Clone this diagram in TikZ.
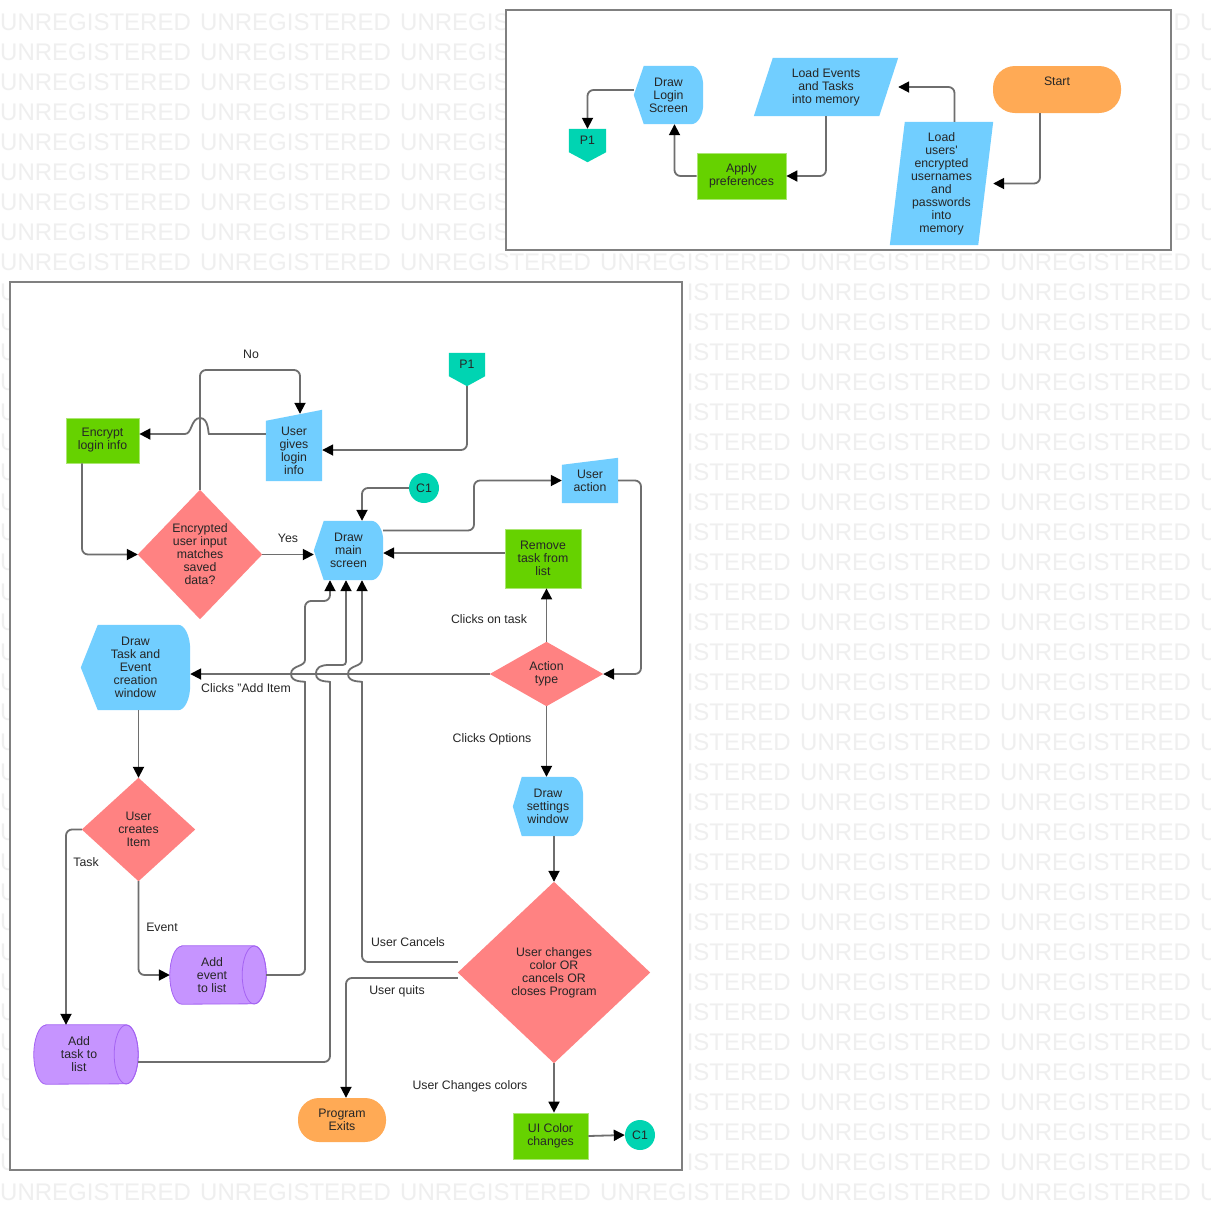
\documentclass[tikz,border=0pt]{standalone}
\usepackage{fontspec}
\setmainfont{Liberation Sans}
\usetikzlibrary{arrows.meta,calc}
\pgfdeclarelayer{wmlayer}
\pgfdeclarelayer{shapelayer}
\pgfsetlayers{wmlayer,shapelayer,main}
\definecolor{cblue}{HTML}{71CEFF}
\definecolor{cgreen}{HTML}{66D200}
\definecolor{cred}{HTML}{FF8282}
\definecolor{corange}{HTML}{FFAA55}
\definecolor{cteal}{HTML}{00D4B2}
\definecolor{cpurp}{HTML}{C694FF}
\definecolor{cpurpb}{HTML}{A463F2}
\definecolor{cline}{HTML}{6E6E6E}
\definecolor{ctext}{HTML}{262626}
\definecolor{cwm}{HTML}{EFEFEF}
\definecolor{cpanel}{HTML}{808080}
\tikzset{
  nd/.style 2 args={inner sep=0pt, minimum width=#1, minimum height=#2, align=center, text=ctext, font=\fontsize{12.3}{13}\selectfont},
  lbl/.style={inner sep=0pt, text=ctext, align=center, font=\fontsize{12.3}{13}\selectfont},
  grn/.style={fill=cgreen, draw=cgreen!55!white, line width=0.8pt},
  conn/.style={draw=cline, line width=1.8pt, rounded corners=6pt, -{Triangle[length=11pt,width=11pt,color=black]}},
  wm/.style={inner sep=0pt, anchor=base west, text=cwm, font=\fontsize{24}{24}\selectfont},
  panel/.style={fill=white, draw=cpanel, line width=2pt},
  conncirc/.style={circle, fill=cteal, minimum size=30pt, inner sep=0pt, text=ctext, font=\fontsize{12.3}{13}\selectfont}
}
% shape helpers (drawn from the anchors of invisible nodes)
\newcommand\shDiam[1]{\fill[cred] (#1.north)--(#1.east)--(#1.south)--(#1.west)--cycle;}
\newcommand\shDisp[3]{\fill[cblue] (#1.west) -- ([xshift=#2pt]#1.north west) -- ([xshift=-12pt]#1.north east) .. controls ([xshift=-5.4pt]#1.north east) and ([yshift=-#3*0.45pt]#1.north east) .. ([yshift=-#3pt]#1.north east) -- ([yshift=#3pt]#1.south east) .. controls ([yshift=#3*0.45pt]#1.south east) and ([xshift=-5.4pt]#1.south east) .. ([xshift=-12pt]#1.south east) -- ([xshift=#2pt]#1.south west) -- cycle;}
\newcommand\shMan[2]{\fill[cblue] ([yshift=-#2pt]#1.north west) -- (#1.north east) -- (#1.south east) -- (#1.south west) -- cycle;}
\newcommand\shPar[2]{\fill[cblue] ([xshift=#2pt]#1.north west) -- (#1.north east) -- ([xshift=-#2pt]#1.south east) -- (#1.south west) -- cycle;}
\newcommand\shOffPt[1]{\fill[cteal] (#1.north west) -- (#1.north east) -- (#1.south east) -- ([yshift=-10pt]#1.south) -- (#1.south west) -- cycle;}
\newcommand\shCyl[2]{\filldraw[fill=cpurp, draw=cpurpb, line width=0.8pt] ([xshift=12pt]#1.north west) -- ([xshift=-12pt]#1.north east) arc[start angle=90,end angle=-90,x radius=12pt,y radius=#2pt] -- ([xshift=12pt]#1.south west) arc[start angle=270,end angle=90,x radius=12pt,y radius=#2pt] -- cycle;
  \draw[draw=cpurpb, line width=0.8pt] ([xshift=-12pt]#1.east) ellipse [x radius=12pt, y radius=#2pt];}
\begin{document}
\begin{tikzpicture}[x=1pt,y=1pt]
\useasboundingbox (0,0) rectangle (1211,-1211);
\begin{pgfonlayer}{wmlayer}
\clip (0,0) rectangle (1211,-1211);
\fill[white] (0,0) rectangle (1211,-1211);
% watermark rows: only the parts that are not hidden by the two panels
\foreach \r in {0,...,7}{%
  \foreach \c in {0,1,6}{\node[wm] (wma\r-\c) at (\c*200,-30-\r*30) {UNREGISTERED};}
  \node[wm] (wmb\r) at (400,-30-\r*30) {UNREGIS};
  \node[wm] (wmc\r) at (1173.4,-30-\r*30) {D};}
\foreach \c in {0,...,6}{\node[wm] (wmd\c) at (\c*200,-270) {UNREGISTERED};
  \node[wm] (wme\c) at (\c*200,-1200) {UNREGISTERED};}
\foreach \r in {9,...,38}{%
  \node[wm] (wmf\r) at (0,-30-\r*30) {U};
  \node[wm] (wmg\r) at (686.6,-30-\r*30) {ISTERED};
  \foreach \c in {4,5,6}{\node[wm] (wmh\r-\c) at (\c*200,-30-\r*30) {UNREGISTERED};}}
\filldraw[panel] (506,-10) rectangle (1171,-250);
\filldraw[panel] (10,-282) rectangle (682,-1170);
\end{pgfonlayer}

% ---------- top panel nodes ----------
\node[nd={128pt}{47pt}, fill=corange, rounded corners=22pt, label={[lbl,yshift=8pt]center:Start}] (start) at (1057,-89.5) {};
\node[nd={103pt}{123pt}] (lum) at (941.5,-183.5) {Load\\users\textquotesingle\\encrypted\\usernames\\and\\passwords\\into\\memory};
\node[nd={144pt}{58pt}] (lem) at (826,-87) {Load Events\\and Tasks\\into memory};
\node[nd={89pt}{46pt}, grn] (apply) at (741.5,-176) {Apply\\preferences};
\node[nd={69pt}{58pt}] (dls) at (668.5,-95) {Draw\\Login\\Screen};
\node[nd={37pt}{23pt}] (p1a) at (587.5,-140.5) {P1};

% ---------- bottom panel nodes ----------
\node[nd={36pt}{23pt}] (p1b) at (467,-364.5) {P1};
\node[nd={56pt}{71pt}, label={[lbl,yshift=-5pt]center:User\\gives\\login\\info}] (ugi) at (294,-445.5) {};
\node[nd={73pt}{45pt}, grn] (enc) at (102.5,-440.5) {Encrypt\\login info};
\node[nd={124pt}{129pt}] (d1) at (200,-554.5) {Encrypted\\user input\\matches\\saved\\data?};
\node[nd={69pt}{59pt}] (dm) at (348.5,-550.5) {Draw\\main\\screen};
\node[conncirc] (c1a) at (424,-488) {C1};
\node[nd={56pt}{45pt}] (ua) at (590,-480.5) {User\\action};
\node[nd={76pt}{59pt}, grn] (rt) at (543,-558.5) {Remove\\task from\\list};
\node[nd={113pt}{64pt}] (act) at (546.5,-674) {Action\\type};
\node[nd={109pt}{85pt}] (dt) at (135.5,-667.5) {Draw\\Task and\\Event\\creation\\window};
\node[nd={113pt}{103pt}] (uc) at (138.5,-829.5) {User\\creates\\Item};
\node[nd={70pt}{59pt}] (ds) at (548,-806.5) {Draw\\settings\\window};
\node[nd={192pt}{181pt}] (bd) at (554,-972.5) {User changes\\color OR\\cancels OR\\closes Program};
\node[nd={96pt}{58pt}, label={[lbl,xshift=-6pt]center:Add\\event\\to list}] (ae) at (218,-975) {};
\node[nd={104pt}{59pt}, label={[lbl,xshift=-7pt]center:Add\\task to\\list}] (atl) at (86,-1054.5) {};
\node[nd={88pt}{44pt}, fill=corange, rounded corners=21pt] (pe) at (342,-1120) {Program\\Exits};
\node[nd={75pt}{46pt}, grn] (uic) at (550.5,-1136) {UI Color\\changes};
\node[conncirc] (c1b) at (640,-1135) {C1};

% ---------- shapes ----------
\begin{pgfonlayer}{shapelayer}
\shPar{lum}{15}
\shPar{lem}{19}
\shDisp{dls}{10}{20}
\shOffPt{p1a}
\shOffPt{p1b}
\shMan{ugi}{11}
\shDiam{d1}
\shDisp{dm}{10}{20}
\shMan{ua}{7}
\shDiam{act}
\shDisp{dt}{17}{25}
\shDiam{uc}
\shDisp{ds}{9}{20}
\shDiam{bd}
\shCyl{ae}{29}
\shCyl{atl}{29.5}
\end{pgfonlayer}

% ---------- top connectors ----------
\draw[conn] ([xshift=-17pt]start.south) |- (lum.east);
\draw[conn] ([xshift=13pt]lum.north) |- (lem.east);
\draw[conn] (lem.south) |- (apply.east);
\draw[conn] (apply.west) -| ([xshift=6pt]dls.south);
\draw[conn] ([yshift=5pt]dls.west) -| (p1a.north);

% ---------- bottom connectors ----------
\draw[conn] ([yshift=-10pt]p1b.south) |- ([yshift=-4.5pt]ugi.east);
\draw[conn] (ugi.west |- 0,-434) -- (215,-434) [sharp corners] .. controls (208,-434) and (209,-418) .. (200,-418) .. controls (191,-418) and (192,-434) .. (185,-434) -- (enc.east |- 0,-434);
\draw[conn] (enc.south -| 82,0) |- (d1.west);
\draw[conn] (d1.north) |- (300,-370) -- ([xshift=6pt,yshift=-4pt]ugi.north);
\draw[conn] (d1.east) -- (dm.west |- d1.east);
\draw[conn] (c1a.west) -| ([xshift=13.5pt]dm.north);
\draw[conn] ([yshift=20pt]dm.east) -- (474,-530.5) -- (474,-480.5) -- (ua.west);
\draw[conn] (ua.east) -- (641,-480.5) -- (641,-674) -- (act.east);
\draw[conn] (act.north) -- (act.north |- rt.south);
\draw[conn] (rt.west |- 0,-553) -- (dm.east |- 0,-553);
\draw[conn] (act.west) -- (dt.east |- act.west);
\draw[conn] (act.south) -- (act.south |- ds.north);
\draw[conn] (ds.south -| 554,0) -- (bd.north);
\draw[conn] (uc.north |- dt.south) -- (uc.north);
\draw[conn] (uc.west) -| ([xshift=-20pt]atl.north);
\draw[conn] (uc.south) |- (ae.west);
\draw[conn] (ae.east) -- (305,-975) -- (305,-688) [sharp corners] .. controls (305,-681) and (291,-683) .. (291,-674) .. controls (291,-665) and (305,-667) .. (305,-660) [rounded corners=6pt] -- (305,-601) -- (330,-601) -- (dm.south -| 330,0);
\draw[conn] ([yshift=-7.5pt]atl.east) -- (330,-1062) -- (330,-688) [sharp corners] .. controls (330,-681) and (316,-683) .. (316,-674) .. controls (316,-667) and (321,-665) .. (329,-665) -- (339,-665) .. controls (346,-665) and (346,-665) .. (346,-658) -- (dm.south -| 346,0);
\draw[conn] (bd.west |- 0,-962) -- (362,-962) -- (362,-688) [sharp corners] .. controls (362,-681) and (348,-683) .. (348,-674) .. controls (348,-665) and (362,-667) .. (362,-660) -- (dm.south -| 362,0);
\draw[conn] (bd.west |- 0,-978) -| ([xshift=4pt]pe.north);
\draw[conn] (bd.south) -- (bd.south |- uic.north);
\draw[conn] (uic.east) -- (c1b.west);

% ---------- labels ----------
\node[lbl] (lno) at (251,-354) {No};
\node[lbl] (lyes) at (288,-538) {Yes};
\node[lbl] (lclick) at (489,-619) {Clicks on task};
\node[lbl] (ladd) at (246,-688) {Clicks "Add Item};
\node[lbl] (lopt) at (492,-739) {Clicks Options};
\node[lbl] (ltask) at (86,-862) {Task};
\node[lbl] (levent) at (162,-927) {Event};
\node[lbl] (lcancel) at (408,-942) {User Cancels};
\node[lbl] (lquit) at (397,-991) {User quits};
\node[lbl] (lchg) at (470,-1086) {User Changes colors};
\end{tikzpicture}
\end{document}
